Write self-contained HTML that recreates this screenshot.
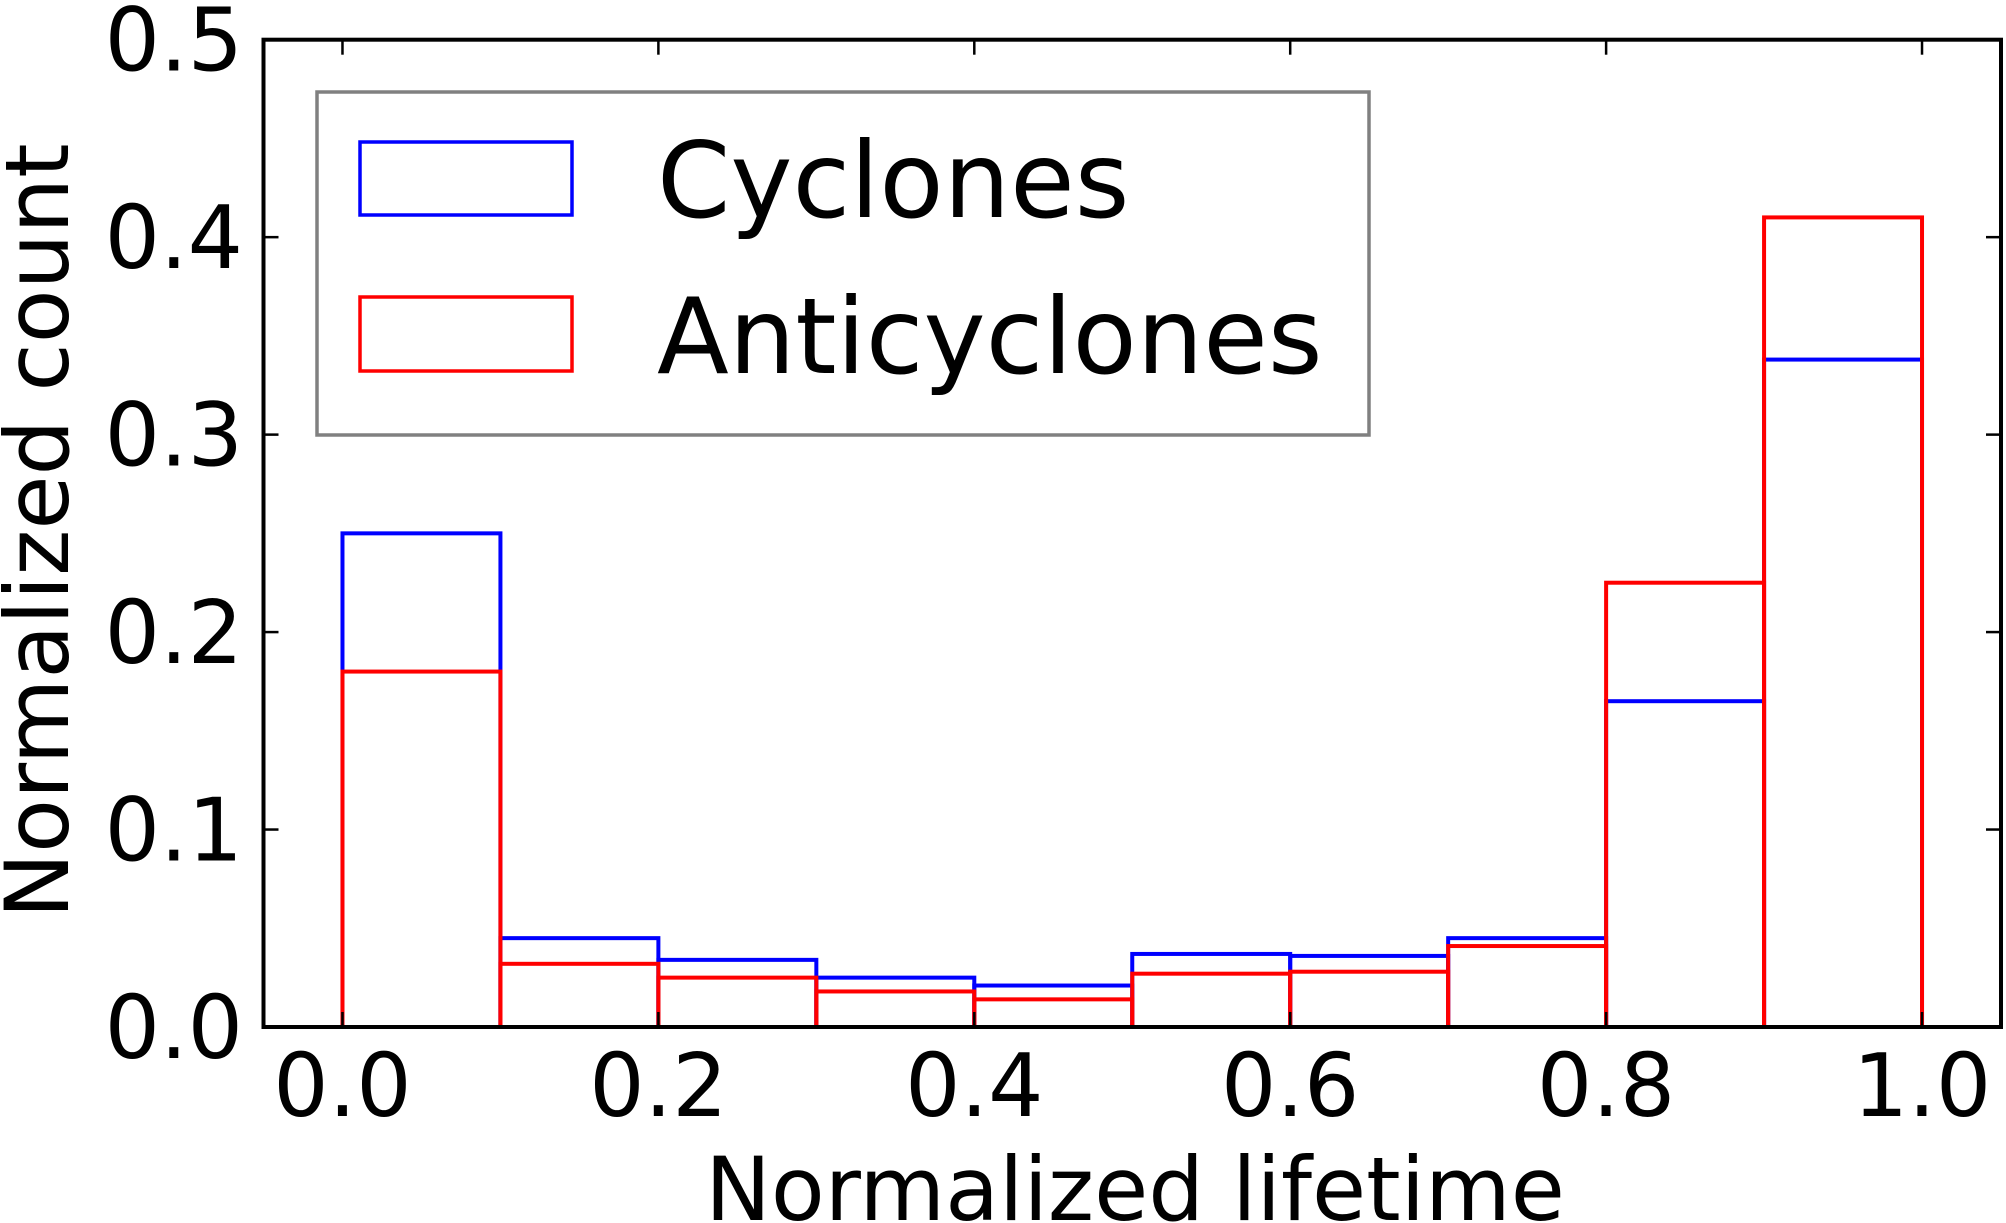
<!DOCTYPE html>
<html><head><meta charset="utf-8"><style>
html,body{margin:0;padding:0;background:#fff;width:2006px;height:1223px;overflow:hidden}
svg{display:block;font-family:"DejaVu Sans","Liberation Sans",sans-serif}
</style></head><body>
<svg id="chart" width="2006" height="1223" viewBox="0 0 2006 1223">
<g id="plot"></g>
</svg>
<script>
const binEdges = [0,0.1,0.2,0.3,0.4,0.5,0.6,0.7,0.8,0.9,1.0];
const cyclones = [0.250,0.045,0.034,0.025,0.021,0.037,0.036,0.045,0.165,0.338];
const anticyclones = [0.180,0.032,0.025,0.018,0.014,0.027,0.028,0.041,0.225,0.410];
const xTicks = [0,0.2,0.4,0.6,0.8,1.0];
const xTickLabels = ["0.0","0.2","0.4","0.6","0.8","1.0"];
const yTicks = [0,0.1,0.2,0.3,0.4,0.5];
const yTickLabels = ["0.0","0.1","0.2","0.3","0.4","0.5"];

const L=263.5,R=2001,T=39.7,B=1027;
const xMin=-0.05,xMax=1.05,yMin=0,yMax=0.5;
const sx=v=>L+(v-xMin)/(xMax-xMin)*(R-L);
const sy=v=>B-(v-yMin)/(yMax-yMin)*(B-T);
const NS="http://www.w3.org/2000/svg";
const g=document.getElementById('plot');
function mk(tag,attrs,parent){const e=document.createElementNS(NS,tag);for(const k in attrs)e.setAttribute(k,attrs[k]);(parent||g).appendChild(e);return e;}

function drawBars(vals,color,name){
  const grp=mk('g',{});
  
  
  vals.forEach((v,i)=>{
    const x0=sx(binEdges[i]),x1=sx(binEdges[i+1]);
    const r=mk('rect',{x:x0,y:sy(v),width:x1-x0,height:sy(0)-sy(v),fill:'none',stroke:color,'stroke-width':4},grp);
    
    
  });
}
drawBars(cyclones,'#0000ff','cyclones-histogram');
drawBars(anticyclones,'#ff0000','anticyclones-histogram');

xTicks.forEach((t,i)=>{
  const x=sx(t);
  mk('line',{x1:x,x2:x,y1:B,y2:B-15,stroke:'#000','stroke-width':2.5});
  mk('line',{x1:x,x2:x,y1:T,y2:T+15,stroke:'#000','stroke-width':2.5});
  const tx=mk('text',{x:x,y:1116,'font-size':87,'text-anchor':'middle',fill:'#000'});
  tx.textContent=xTickLabels[i];
  
  
});
yTicks.forEach((t,i)=>{
  const y=sy(t);
  mk('line',{x1:L,x2:L+15,y1:y,y2:y,stroke:'#000','stroke-width':2.5});
  mk('line',{x1:R,x2:R-15,y1:y,y2:y,stroke:'#000','stroke-width':2.5});
  const tx=mk('text',{x:243,y:y+31,'font-size':87,'text-anchor':'end',fill:'#000'});
  tx.textContent=yTickLabels[i];
  
  
});
const frame=mk('rect',{x:L,y:T,width:R-L,height:B-T,fill:'none',stroke:'#000','stroke-width':4});


</script>
<svg width="2006" height="1223" viewBox="0 0 2006 1223" style="position:absolute;left:0;top:0">
<g>
<rect x="317" y="92" width="1052" height="343" fill="#fff" stroke="#808080" stroke-width="3.5"/>
<rect x="360" y="142" width="212" height="73" fill="none" stroke="#0000ff" stroke-width="3.5"/>
<text x="657" y="217" font-size="105" fill="#000" font-family="DejaVu Sans, Liberation Sans, sans-serif">Cyclones</text>
<rect x="360" y="297" width="212" height="74" fill="none" stroke="#ff0000" stroke-width="3.5"/>
<text x="657" y="373" font-size="105" fill="#000" font-family="DejaVu Sans, Liberation Sans, sans-serif">Anticyclones</text>
</g>
<text x="1135" y="1220" font-size="88" text-anchor="middle" fill="#000" font-family="DejaVu Sans, Liberation Sans, sans-serif">Normalized lifetime</text>
<text transform="translate(68,531) rotate(-90)" font-size="88" text-anchor="middle" fill="#000" font-family="DejaVu Sans, Liberation Sans, sans-serif">Normalized count</text>
</svg>
</body></html>
